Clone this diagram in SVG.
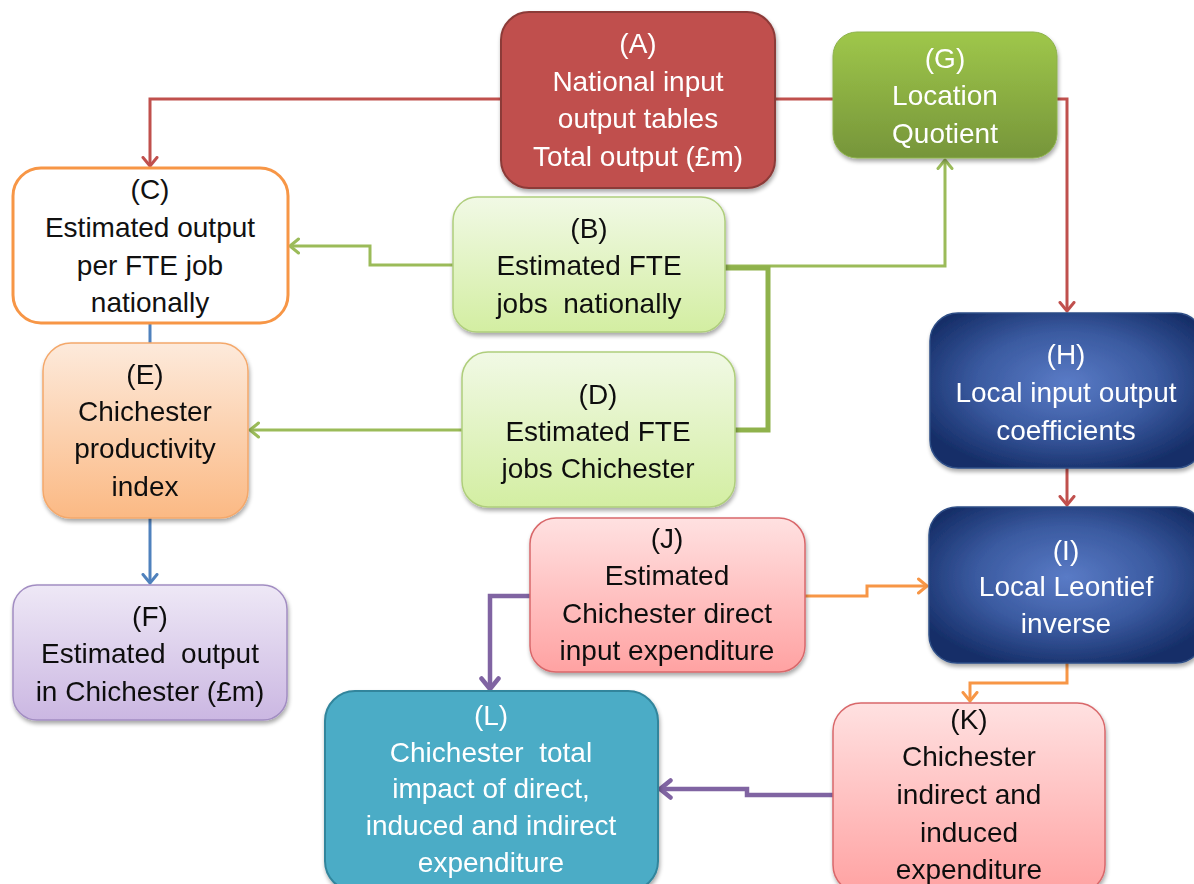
<svg xmlns="http://www.w3.org/2000/svg" width="1194" height="884" viewBox="0 0 1194 884">
  <style>
    text { font-family: "Liberation Sans", Arial, sans-serif; font-size: 28px; text-anchor: middle; }
    .dk { fill: #111111; }
    .lt { fill: #ffffff; }
    .box { filter: url(#shadow); }
    .c-red { stroke: #C0504D; stroke-width: 3; fill: none; }
    .c-green { stroke: #9BBB59; stroke-width: 3; fill: none; }
    .c-green-thick { stroke: #8FB24C; stroke-width: 5; fill: none; }
    .c-blue { stroke: #4F81BD; stroke-width: 3; fill: none; }
    .c-orange { stroke: #F79646; stroke-width: 3; fill: none; }
    .c-purple { stroke: #8064A2; stroke-width: 4.5; fill: none; }
  </style>
  <defs>
    <filter id="shadow" x="-10%" y="-10%" width="125%" height="130%">
      <feGaussianBlur in="SourceAlpha" stdDeviation="2"/>
      <feOffset dx="1" dy="3" result="b"/>
      <feComponentTransfer><feFuncA type="linear" slope="0.35"/></feComponentTransfer>
      <feMerge><feMergeNode/><feMergeNode in="SourceGraphic"/></feMerge>
    </filter>
    <linearGradient id="gG" x1="0" y1="0" x2="0" y2="1">
      <stop offset="0" stop-color="#9FC74A"/>
      <stop offset="1" stop-color="#76953A"/>
    </linearGradient>
    <linearGradient id="gLightGreen" x1="0" y1="0" x2="0" y2="1">
      <stop offset="0" stop-color="#F1F9E5"/>
      <stop offset="1" stop-color="#D3EEA2"/>
    </linearGradient>
    <linearGradient id="gPeach" x1="0" y1="0" x2="0" y2="1">
      <stop offset="0" stop-color="#FDEADB"/>
      <stop offset="1" stop-color="#FBB984"/>
    </linearGradient>
    <linearGradient id="gLavender" x1="0" y1="0" x2="0" y2="1">
      <stop offset="0" stop-color="#EEE8F6"/>
      <stop offset="1" stop-color="#CBB7E2"/>
    </linearGradient>
    <linearGradient id="gPink" x1="0" y1="0" x2="0" y2="1">
      <stop offset="0" stop-color="#FFE1E1"/>
      <stop offset="1" stop-color="#FFA2A2"/>
    </linearGradient>
    <radialGradient id="gNavy" cx="0.5" cy="0.45" r="0.6">
      <stop offset="0" stop-color="#5A7BC6"/>
      <stop offset="0.55" stop-color="#3A5AA0"/>
      <stop offset="1" stop-color="#162E68"/>
    </radialGradient>
    <marker id="ah-red" viewBox="0 0 12 18" refX="10" refY="9" markerWidth="12" markerHeight="18" markerUnits="userSpaceOnUse" orient="auto">
      <path d="M1.5,2 L10,9 L1.5,16" fill="none" stroke="#C0504D" stroke-width="3" stroke-linecap="round" stroke-linejoin="round"/>
    </marker>
    <marker id="ah-green" viewBox="0 0 12 18" refX="10" refY="9" markerWidth="12" markerHeight="18" markerUnits="userSpaceOnUse" orient="auto">
      <path d="M1.5,2 L10,9 L1.5,16" fill="none" stroke="#9BBB59" stroke-width="3" stroke-linecap="round" stroke-linejoin="round"/>
    </marker>
    <marker id="ah-blue" viewBox="0 0 12 18" refX="10" refY="9" markerWidth="12" markerHeight="18" markerUnits="userSpaceOnUse" orient="auto">
      <path d="M1.5,2 L10,9 L1.5,16" fill="none" stroke="#4F81BD" stroke-width="3" stroke-linecap="round" stroke-linejoin="round"/>
    </marker>
    <marker id="ah-orange" viewBox="0 0 12 18" refX="10" refY="9" markerWidth="12" markerHeight="18" markerUnits="userSpaceOnUse" orient="auto">
      <path d="M1.5,2 L10,9 L1.5,16" fill="none" stroke="#F79646" stroke-width="3" stroke-linecap="round" stroke-linejoin="round"/>
    </marker>
    <marker id="ah-purple" viewBox="0 0 16 22" refX="13" refY="11" markerWidth="16" markerHeight="22" markerUnits="userSpaceOnUse" orient="auto">
      <path d="M2.5,2.5 L13,11 L2.5,19.5" fill="none" stroke="#8064A2" stroke-width="4.5" stroke-linecap="round" stroke-linejoin="round"/>
    </marker>
  </defs>

  <rect width="1194" height="884" fill="#ffffff"/>

  <!-- connectors -->
  <g id="connectors">
    <!-- A to C -->
    <path class="c-red" d="M501,99 H150 V166" marker-end="url(#ah-red)"/>
    <!-- A through G to H -->
    <path class="c-red" d="M775,99 H1067 V311" marker-end="url(#ah-red)"/>
    <!-- H to I -->
    <path class="c-red" d="M1067,468 V505" marker-end="url(#ah-red)"/>
    <!-- B to C -->
    <path class="c-green" d="M453,265 H370 V246 H290" marker-end="url(#ah-green)"/>
    <!-- B to G -->
    <path class="c-green" d="M725,266 H945 V160" marker-end="url(#ah-green)"/>
    <!-- D joining the B to G route -->
    <path class="c-green-thick" d="M735,430 H768 V268 H725"/>
    <!-- D to E -->
    <path class="c-green" d="M462,430 H250" marker-end="url(#ah-green)"/>
    <!-- C to E -->
    <path class="c-blue" d="M150,323 V343"/>
    <!-- E to F -->
    <path class="c-blue" d="M150,518 V583" marker-end="url(#ah-blue)"/>
    <!-- J to I -->
    <path class="c-orange" d="M805,596 H867 V586 H927" marker-end="url(#ah-orange)"/>
    <!-- I to K -->
    <path class="c-orange" d="M1067,663 V683 H970 V701" marker-end="url(#ah-orange)"/>
    <!-- J to L -->
    <path class="c-purple" d="M530,596 H490 V689" marker-end="url(#ah-purple)"/>
    <!-- K to L -->
    <path class="c-purple" d="M833,795 H747 V789 H660" marker-end="url(#ah-purple)"/>
  </g>

  <!-- (A) National input output tables -->
  <g id="node-A" class="box">
    <rect x="501" y="12" width="274" height="176" rx="28" fill="#C0504D" stroke="#8C3A38" stroke-width="2"/>
    <text class="lt" x="638" y="53">(A)</text>
    <text class="lt" x="638" y="91">National input</text>
    <text class="lt" x="638" y="128">output tables</text>
    <text class="lt" x="638" y="166">Total output (£m)</text>
  </g>

  <!-- (G) Location Quotient -->
  <g id="node-G" class="box">
    <rect x="833" y="32" width="224" height="126" rx="24" fill="url(#gG)" stroke="#8DB24C" stroke-width="1"/>
    <text class="lt" x="945" y="68">(G)</text>
    <text class="lt" x="945" y="105">Location</text>
    <text class="lt" x="945" y="143">Quotient</text>
  </g>

  <!-- (C) Estimated output per FTE job nationally -->
  <g id="node-C">
    <rect x="13" y="168" width="275" height="155" rx="28" fill="#ffffff" stroke="#F79646" stroke-width="3"/>
    <text class="dk" x="150" y="199">(C)</text>
    <text class="dk" x="150" y="237">Estimated output</text>
    <text class="dk" x="150" y="275">per FTE job</text>
    <text class="dk" x="150" y="312">nationally</text>
  </g>

  <!-- (B) Estimated FTE jobs nationally -->
  <g id="node-B" class="box">
    <rect x="453" y="197" width="272" height="135" rx="24" fill="url(#gLightGreen)" stroke="#AFCE7C" stroke-width="1.5"/>
    <text class="dk" x="589" y="238">(B)</text>
    <text class="dk" x="589" y="275">Estimated FTE</text>
    <text class="dk" x="589" y="313" xml:space="preserve">jobs  nationally</text>
  </g>

  <!-- (D) Estimated FTE jobs Chichester -->
  <g id="node-D" class="box">
    <rect x="462" y="352" width="273" height="155" rx="26" fill="url(#gLightGreen)" stroke="#AFCE7C" stroke-width="1.5"/>
    <text class="dk" x="598" y="404">(D)</text>
    <text class="dk" x="598" y="441">Estimated FTE</text>
    <text class="dk" x="598" y="478">jobs Chichester</text>
  </g>

  <!-- (E) Chichester productivity index -->
  <g id="node-E" class="box">
    <rect x="43" y="343" width="205" height="175" rx="28" fill="url(#gPeach)" stroke="#F4A86B" stroke-width="1.5"/>
    <text class="dk" x="145" y="384">(E)</text>
    <text class="dk" x="145" y="421">Chichester</text>
    <text class="dk" x="145" y="458">productivity</text>
    <text class="dk" x="145" y="496">index</text>
  </g>

  <!-- (F) Estimated output in Chichester -->
  <g id="node-F" class="box">
    <rect x="13" y="585" width="274" height="135" rx="24" fill="url(#gLavender)" stroke="#A28DC2" stroke-width="1.5"/>
    <text class="dk" x="150" y="626">(F)</text>
    <text class="dk" x="150" y="663" xml:space="preserve">Estimated  output</text>
    <text class="dk" x="150" y="701">in Chichester (£m)</text>
  </g>

  <!-- (H) Local input output coefficients -->
  <g id="node-H" class="box">
    <rect x="930" y="313" width="274" height="155" rx="28" fill="url(#gNavy)" stroke="#2E4E86" stroke-width="1.5"/>
    <text class="lt" x="1066" y="364">(H)</text>
    <text class="lt" x="1066" y="402">Local input output</text>
    <text class="lt" x="1066" y="440">coefficients</text>
  </g>

  <!-- (I) Local Leontief inverse -->
  <g id="node-I" class="box">
    <rect x="929" y="507" width="275" height="156" rx="28" fill="url(#gNavy)" stroke="#2E4E86" stroke-width="1.5"/>
    <text class="lt" x="1066" y="560">(I)</text>
    <text class="lt" x="1066" y="596">Local Leontief</text>
    <text class="lt" x="1066" y="633">inverse</text>
  </g>

  <!-- (J) Estimated Chichester direct input expenditure -->
  <g id="node-J" class="box">
    <rect x="530" y="518" width="275" height="154" rx="26" fill="url(#gPink)" stroke="#D9686B" stroke-width="1.5"/>
    <text class="dk" x="667" y="548">(J)</text>
    <text class="dk" x="667" y="585">Estimated</text>
    <text class="dk" x="667" y="623">Chichester direct</text>
    <text class="dk" x="667" y="660">input expenditure</text>
  </g>

  <!-- (K) Chichester indirect and induced expenditure -->
  <g id="node-K" class="box">
    <rect x="833" y="703" width="272" height="190" rx="28" fill="url(#gPink)" stroke="#D9686B" stroke-width="1.5"/>
    <text class="dk" x="969" y="729">(K)</text>
    <text class="dk" x="969" y="766">Chichester</text>
    <text class="dk" x="969" y="804">indirect and</text>
    <text class="dk" x="969" y="842">induced</text>
    <text class="dk" x="969" y="879">expenditure</text>
  </g>

  <!-- (L) Chichester total impact -->
  <g id="node-L" class="box">
    <rect x="325" y="691" width="333" height="200" rx="30" fill="#4BACC6" stroke="#31859C" stroke-width="2"/>
    <text class="lt" x="491" y="725">(L)</text>
    <text class="lt" x="491" y="762" xml:space="preserve">Chichester  total</text>
    <text class="lt" x="491" y="798">impact of direct,</text>
    <text class="lt" x="491" y="835">induced and indirect</text>
    <text class="lt" x="491" y="872">expenditure</text>
  </g>
</svg>
